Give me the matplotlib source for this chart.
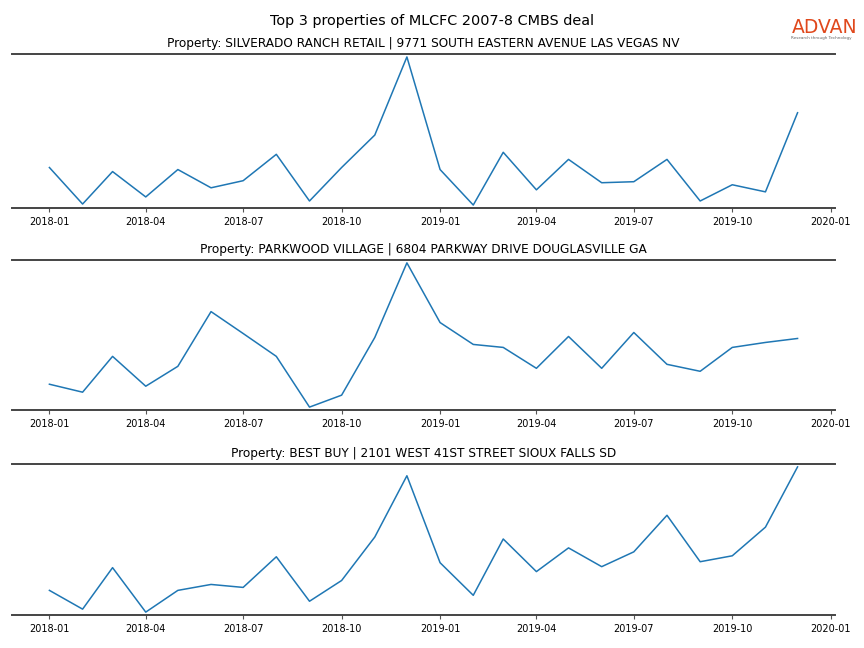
import numpy as np
import pandas as pd
import matplotlib
matplotlib.use("Agg")
import matplotlib.pyplot as plt
import matplotlib.dates as mdates

months = pd.date_range("2018-01-01", "2019-12-01", freq="MS")

titles = [
    "Property: SILVERADO RANCH RETAIL | 9771 SOUTH EASTERN AVENUE LAS VEGAS NV",
    "Property: PARKWOOD VILLAGE | 6804 PARKWAY DRIVE DOUGLASVILLE GA",
    "Property: BEST BUY | 2101 WEST 41ST STREET SIOUX FALLS SD",
]

silverado = [41, 5, 37, 12, 39, 21, 28, 54, 8, 41, 73, 150,
             39, 4, 56, 19, 49, 26, 27, 49, 8, 24, 17, 95]
parkwood = [25, 17, 53, 23, 43, 98, 76, 53, 2, 14, 72, 147,
            87, 65, 62, 41, 73, 41, 77, 45, 38, 62, 67, 71]
bestbuy = [24, 5, 47, 2, 24, 30, 27, 58, 13, 34, 78, 140,
           52, 19, 76, 43, 67, 48, 63, 100, 53, 59, 88, 149]

series = [silverado, parkwood, bestbuy]

fig = plt.figure(figsize=(8.64, 6.48), dpi=100)
boxes = [(0.679, 0.9167), (0.3673, 0.5988), (0.0509, 0.284)]

for (b, t), title, vals in zip(boxes, titles, series):
    ax = fig.add_axes([0.0139, b, 0.9525, t - b])
    ax.plot(months, vals, color="#1f77b4", lw=1.1)
    ax.margins(y=0.02)
    ax.set_title(title, fontsize=8.7, pad=5)
    ax.set_yticks([])
    for s in ["left", "right"]:
        ax.spines[s].set_visible(False)
    for s in ["top", "bottom"]:
        ax.spines[s].set_color("#444444")
        ax.spines[s].set_linewidth(1.4)
    ax.xaxis.set_major_locator(mdates.MonthLocator(bymonth=[1, 4, 7, 10]))
    ax.xaxis.set_major_formatter(mdates.DateFormatter("%Y-%m"))
    ax.tick_params(axis="x", labelsize=7, length=3, color="#555555")

fig.suptitle("Top 3 properties of MLCFC 2007-8 CMBS deal", fontsize=10.4, y=0.979)

fig.text(0.916, 0.957, "ADVAN", color="#e0481c", fontsize=13.5, fontweight="medium",
         ha="left", va="center")
fig.text(0.916, 0.941, "Research through Technology", color="#666666", fontsize=3,
         ha="left", va="center")

fig.savefig("out.png", dpi=100)
